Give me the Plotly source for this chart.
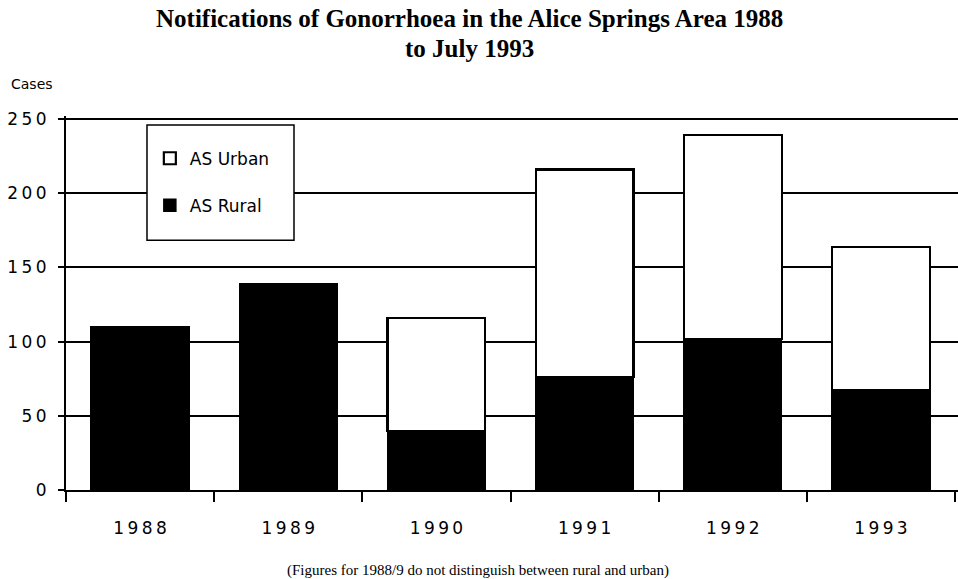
import plotly.graph_objects as go

years = ["1988", "1989", "1990", "1991", "1992", "1993"]
rural = [110, 139, 40, 76, 102, 67]
urban = [None, None, 76, 140, 137, 97]
y_ticks = [0, 50, 100, 150, 200, 250]

TS = "\u2009"  # thin space to mimic the wide letter spacing of the original
def spaced(s):
    return TS.join(str(s))

fig = go.Figure()
fig.add_trace(go.Bar(
    x=years, y=rural, name="AS Rural", legendgroup="r", legendrank=2,
    marker=dict(color="black", line=dict(color="black", width=1.5)),
    width=0.66,
))
fig.add_trace(go.Bar(
    x=years, y=urban, name="AS Urban", legendgroup="u", legendrank=1,
    marker=dict(color="white", line=dict(color="black", width=2.2)),
    width=0.66,
))

fig.update_layout(
    width=958, height=579,
    barmode="stack",
    plot_bgcolor="white", paper_bgcolor="white",
    margin=dict(l=66, r=0, t=116, b=89, autoexpand=False),
    font=dict(family="DejaVu Sans", color="black", size=17),
    legend=dict(
        x=0.094, y=0.934, xanchor="left", yanchor="top",
        bgcolor="rgba(0,0,0,0)", borderwidth=0,
        traceorder="grouped", tracegroupgap=22,
        font=dict(family="DejaVu Sans", size=17),
    ),
    showlegend=True,
)
fig.update_xaxes(
    type="category", range=[-0.5, 5.52], automargin=False,
    tickson="boundaries", ticks="outside", ticklen=10, tickwidth=1.5, tickcolor="black",
    showline=True, linecolor="black", linewidth=2,
    showgrid=False, tickfont=dict(size=17), ticklabelstandoff=22,
    tickvals=years, ticktext=[spaced(y) for y in years],
)
fig.update_yaxes(
    range=[0, 252], tickvals=y_ticks, ticktext=[spaced(v) for v in y_ticks],
    automargin=False,
    ticks="outside", ticklen=6, tickwidth=1.5, tickcolor="black",
    showline=True, linecolor="black", linewidth=2,
    showgrid=True, gridcolor="black", gridwidth=2, zeroline=False,
    tickfont=dict(size=17), ticklabelstandoff=8,
)
# legend frame
fig.add_shape(type="rect", xref="paper", yref="paper",
              x0=0.0908, x1=0.2556, y0=0.668, y1=0.976,
              fillcolor="white", line=dict(color="black", width=1.5), layer="above")

title_font = dict(family="Liberation Serif", size=25, color="black", weight="bold")
fig.add_annotation(text="Notifications of Gonorrhoea in the Alice Springs Area 1988",
                   xref="paper", yref="paper", x=(469 - 66) / 892, y=(490 - 18) / 374,
                   xanchor="center", yanchor="middle", showarrow=False, font=title_font)
fig.add_annotation(text="to July 1993",
                   xref="paper", yref="paper", x=(469 - 66) / 892, y=(490 - 49) / 374,
                   xanchor="center", yanchor="middle", showarrow=False, font=title_font)
fig.add_annotation(text="Cases", xref="paper", yref="paper", x=(9 - 66) / 892, y=(490 - 84) / 374,
                   xanchor="left", yanchor="middle", showarrow=False,
                   font=dict(family="DejaVu Sans", size=14))
fig.add_annotation(text="(Figures for 1988/9 do not distinguish between rural and urban)",
                   xref="paper", yref="paper", x=(478 - 66) / 892, y=(490 - 570) / 374,
                   xanchor="center", yanchor="middle", showarrow=False,
                   font=dict(family="Liberation Serif", size=15))

fig.write_html("out.html", config={"displayModeBar": False},
               post_script="document.body.style.margin='0px';")
